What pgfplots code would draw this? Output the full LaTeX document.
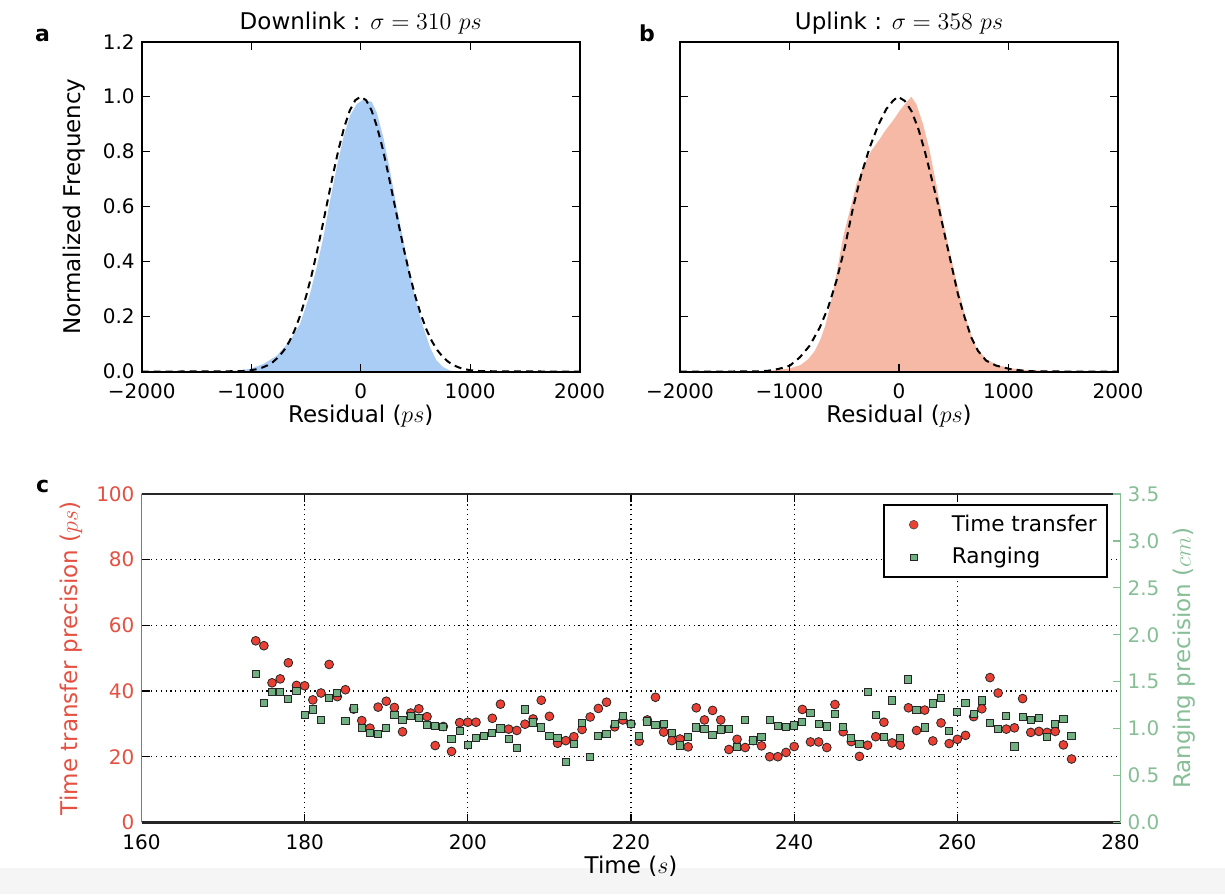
\documentclass[border=0pt]{standalone}
\usepackage{fontspec}
\setmainfont{DejaVu Sans}
\usepackage{pgfplots}
\pgfplotsset{compat=1.18}

\definecolor{histblue}{RGB}{170,205,245}
\definecolor{histsalmon}{RGB}{245,185,165}
\definecolor{ttred}{RGB}{235,64,52}
\definecolor{axred}{RGB}{228,80,65}
\definecolor{rggreen}{RGB}{112,175,128}
\definecolor{axgreen}{RGB}{135,190,150}

\pgfplotsset{
  common/.style={
    scale only axis,
    tick align=inside,
    major tick length=4pt,
    tick style={line width=0.6pt, black},
    tick label style={font=\fontsize{10}{12}\selectfont},
    xticklabel style={yshift=-2.5pt},
    label style={font=\fontsize{11.5}{13.8}\selectfont},
    title style={font=\fontsize{11.5}{13.8}\selectfont, yshift=-6pt},
  },
  hist/.style={
    common,
    width=219pt, height=165pt,
    xmin=-2000, xmax=2000, ymin=0, ymax=1.2,
    xtick={-2000,-1000,0,1000,2000},
    xticklabels={−2000,−1000,0,1000,2000},
    ytick={0,0.2,0.4,0.6,0.8,1.0,1.2},
    axis line style={line width=1pt},
    axis on top,
    xlabel={Residual ($ps$)},
    xlabel style={yshift=4pt},
  },
  fit/.style={black, line width=1pt, dash pattern=on 3.5pt off 2.5pt},
}

% histogram outlines
\pgfplotstableread{
x y
-2000 0
-1400 0
-1250 0.002
-1132 0.004
-1011 0.010
-889 0.028
-767 0.058
-645 0.113
-554 0.173
-463 0.282
-402 0.379
-341 0.488
-280 0.622
-219 0.743
-158 0.852
-97 0.931
-37 0.973
9 0.985
30 0.990
55 0.985
100 0.982
146 0.943
207 0.852
268 0.731
329 0.598
390 0.476
450 0.355
511 0.246
572 0.161
633 0.088
694 0.040
755 0.016
816 0.004
900 0.001
1000 0
2000 0
}\downhist

\pgfplotstableread{
x y
-2000 0
-1100 0.0018
-1000 0.0055
-950 0.0091
-900 0.0148
-850 0.0233
-800 0.0358
-750 0.0536
-700 0.0781
-650 0.1110
-600 0.1537
-550 0.2073
-500 0.2723
-450 0.3487
-400 0.4350
-350 0.5287
-300 0.6261
-250 0.7224
-200 0.8121
-150 0.8895
-100 0.9493
-50 0.9871
0 1
50 0.9871
100 0.9493
150 0.8895
200 0.8121
250 0.7224
300 0.6261
350 0.5287
400 0.4350
450 0.3487
500 0.2723
550 0.2073
600 0.1537
650 0.1110
700 0.0781
750 0.0536
800 0.0358
850 0.0233
900 0.0148
950 0.0091
1000 0.0055
1100 0.0018
2000 0
}\downfit

\pgfplotstableread{
x y
-2000 0
-1500 0
-1300 0.002
-1150 0.005
-997 0.012
-900 0.024
-830 0.045
-770 0.075
-720 0.115
-675 0.165
-632 0.234
-571 0.355
-511 0.488
-450 0.585
-389 0.682
-328 0.743
-252 0.804
-176 0.846
-116 0.882
-55 0.913
6 0.949
67 0.979
112 1.000
158 0.973
219 0.901
280 0.804
340 0.682
401 0.549
462 0.440
523 0.331
584 0.234
644 0.149
705 0.088
796 0.046
888 0.025
1009 0.013
1131 0.007
1300 0.004
1500 0.002
1700 0.001
2000 0
}\uphist

\pgfplotstableread{
x y
-2000 0
-1300 0.001
-1200 0.003
-1100 0.010
-997 0.022
-906 0.052
-815 0.095
-723 0.161
-647 0.234
-571 0.331
-495 0.452
-419 0.598
-343 0.719
-267 0.816
-191 0.895
-116 0.955
-55 0.985
-10 1.000
52 0.985
112 0.949
173 0.888
234 0.804
295 0.707
356 0.610
416 0.500
477 0.392
538 0.282
599 0.198
660 0.125
721 0.076
796 0.040
888 0.022
1009 0.010
1131 0.004
1250 0.001
2000 0
}\upfit

% time transfer precision (ps)
\pgfplotstableread{
t v
174 55.3
175 53.8
176 42.5
177 43.7
178 48.6
179 41.7
180 41.6
181 37.3
182 39.4
183 48.1
184 38.3
185 40.4
186 34.5
187 31.0
188 28.7
189 35.1
190 36.9
191 35.0
192 27.6
193 33.3
194 34.6
195 32.2
196 23.4
197 29.2
198 21.6
199 30.4
200 30.5
201 30.5
203 31.7
204 36.0
205 28.4
206 28.0
207 29.9
208 31.5
209 37.2
210 32.3
211 24.1
212 24.9
213 26.1
214 28.3
215 32.1
216 34.7
217 36.6
218 29.1
219 31.2
220 30.0
221 24.7
222 31.2
223 38.1
224 27.5
225 24.9
226 25.4
227 23.0
228 34.9
229 31.2
230 34.1
231 31.2
232 22.2
233 25.3
234 22.8
235 24.9
236 23.3
237 20.0
238 20.0
239 21.3
240 23.1
241 34.4
242 24.5
243 24.5
244 22.8
245 35.9
246 27.6
247 24.6
248 20.1
249 23.5
250 26.1
251 30.5
252 24.2
253 23.5
254 34.9
255 28.0
256 34.2
257 24.8
258 30.3
259 24.0
260 25.3
261 26.5
262 32.2
263 34.6
264 44.1
265 39.4
266 28.4
267 28.8
268 37.7
269 27.4
270 27.7
271 27.4
272 27.7
273 23.6
274 19.3
}\timetransfer

% ranging precision (cm)
\pgfplotstableread{
t r
174 1.582
175 1.271
176 1.386
177 1.386
178 1.313
179 1.400
180 1.148
181 1.204
182 1.092
183 1.327
184 1.383
185 1.082
186 1.215
187 1.005
188 0.956
189 0.945
190 1.008
191 1.145
192 1.092
193 1.134
194 1.110
195 1.040
196 1.029
197 1.015
198 0.893
199 0.977
200 0.826
201 0.900
202 0.921
203 0.949
204 1.001
205 0.889
206 0.795
207 1.204
208 1.064
209 1.012
210 0.921
211 0.896
212 0.641
213 0.833
214 1.057
215 0.693
216 0.924
217 0.938
218 1.050
219 1.134
220 1.050
221 0.924
222 1.075
223 1.040
224 1.050
225 0.956
226 0.819
227 0.914
228 1.012
229 0.994
230 0.928
231 0.991
232 0.994
233 0.802
234 1.092
235 0.872
236 0.914
237 1.092
238 1.029
239 1.015
240 1.033
241 1.071
242 1.166
243 1.047
244 1.022
245 1.155
246 1.015
247 0.896
248 0.837
249 1.393
250 1.145
251 0.907
252 1.299
253 0.900
254 1.523
255 1.197
256 1.012
257 1.267
258 1.323
259 0.977
260 1.180
261 1.274
262 1.155
263 1.299
264 1.057
265 0.994
266 1.134
267 0.809
268 1.127
269 1.092
270 1.110
271 0.914
272 1.050
273 1.099
274 0.921
}\ranging

\begin{document}
\begin{tikzpicture}
\useasboundingbox (0,0) rectangle (612.5pt,447pt);
\fill[black!4] (0,0) rectangle (612.5pt,13pt);

% a: downlink
\begin{axis}[hist, at={(70.85pt,261.15pt)}, anchor=south west,
  yticklabels={0.0,0.2,0.4,0.6,0.8,1.0,1.2},
  ylabel={Normalized Frequency},
  ylabel style={yshift=2pt},
  title={Downlink : $\sigma=310\ ps$}]
\addplot[draw=none, fill=histblue] table[x=x,y=y] {\downhist} \closedcycle;
\addplot[fit] table[x=x,y=y] {\downfit};
\end{axis}

% b: uplink
\begin{axis}[hist, at={(340pt,261.15pt)}, anchor=south west,
  yticklabels={},
  title={Uplink : $\sigma=358\ ps$}]
\addplot[draw=none, fill=histsalmon] table[x=x,y=y] {\uphist} \closedcycle;
\addplot[fit] table[x=x,y=y] {\upfit};
\end{axis}

% c: precision against time
\begin{axis}[common, at={(70.75pt,35.8pt)}, anchor=south west,
  width=489.5pt, height=164.2pt,
  xmin=160, xmax=280, ymin=0, ymax=100,
  xtick={160,180,200,220,240,260,280},
  xticklabels={160,180,200,220,240,260,280},
  ytick={0,20,40,60,80,100},
  yticklabels={0,20,40,60,80,100},
  axis y line*=left,
  x axis line style={line width=1.2pt, black!85},
  y axis line style={line width=0.9pt, axred},
  yticklabel style={axred},
  ylabel style={axred},
  xlabel={Time ($s$)},
  xlabel style={inner sep=1pt, yshift=1.5pt},
  ylabel={Time transfer precision ($ps$)},
  grid=major,
  grid style={black, line width=0.6pt, dash pattern=on 0.6pt off 1.8pt}]
\addplot[only marks, mark=*, mark size=2.2pt,
  mark options={fill=ttred, draw=black!85, line width=0.4pt}]
  table[x=t,y=v] {\timetransfer};
\end{axis}

\begin{axis}[common, at={(70.75pt,35.8pt)}, anchor=south west,
  width=489.5pt, height=164.2pt,
  xmin=160, xmax=280, ymin=0, ymax=3.5,
  axis x line=none, axis y line*=right,
  ytick={0,0.5,1.0,1.5,2.0,2.5,3.0,3.5},
  yticklabels={0.0,0.5,1.0,1.5,2.0,2.5,3.0,3.5},
  y axis line style={line width=0.9pt, axgreen},
  ytick style={axgreen},
  yticklabel style={axgreen},
  ylabel style={axgreen},
  ylabel={Ranging precision ($cm$)},
  legend cell align=left,
  legend style={at={(0.987,0.9695)}, anchor=north east, draw=black,
    line width=1pt, fill=white, font=\fontsize{10.8}{13}\selectfont,
    inner xsep=3pt, inner ysep=3pt, row sep=2.5pt},
  legend image code/.code={\path[draw=none, fill=none, opacity=0]
    (-12pt,-3pt) rectangle (17pt,3pt);
    \draw[#1] plot coordinates {(0pt,0pt)};}]
\addplot[forget plot, only marks, mark=square*, mark size=1.8pt,
  mark options={fill=rggreen, draw=black!85, line width=0.5pt}]
  table[x=t,y=r] {\ranging};
\addlegendimage{only marks, mark=*, mark size=2.2pt,
  mark options={fill=ttred, draw=black!70, line width=0.3pt}}
\addlegendentry{Time transfer}
\addlegendimage{only marks, mark=square*, mark size=1.6pt,
  mark options={fill=rggreen, draw=black!85, line width=0.4pt}}
\addlegendentry{Ranging}
\end{axis}

\node[anchor=base west, font=\fontsize{11}{13}\selectfont\bfseries] at (14pt,426pt) {a};
\node[anchor=base west, font=\fontsize{11}{13}\selectfont\bfseries] at (316pt,426pt) {b};
\node[anchor=base west, font=\fontsize{11}{13}\selectfont\bfseries] at (14.5pt,200.5pt) {c};
\end{tikzpicture}
\end{document}
